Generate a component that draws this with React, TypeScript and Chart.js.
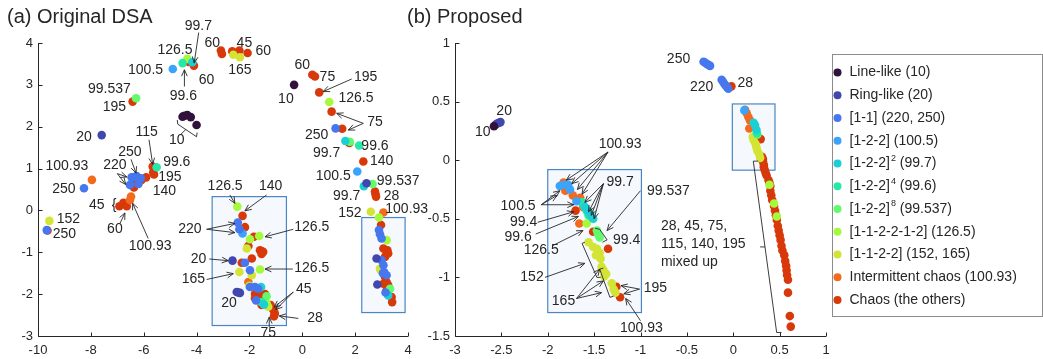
import React, { useEffect, useRef } from "react";
import { Chart, registerables } from "chart.js";

Chart.register(...registerables);

type P = [number, number];

// ---------- categories ----------
const categoryNames = [
  "Line-like (10)",
  "Ring-like (20)",
  "[1-1] (220, 250)",
  "[1-2-2] (100.5)",
  "[1-2-2]² (99.7)",
  "[1-2-2]⁴ (99.6)",
  "[1-2-2]⁸ (99.537)",
  "[1-1-2-2-1-2] (126.5)",
  "[1-1-2-2] (152, 165)",
  "Intermittent chaos (100.93)",
  "Chaos (the others)",
];
const categoryColors = [
  "#30123b", "#4047ae", "#4677ee", "#3aa3fc", "#1ccfd5", "#25eaa7",
  "#62fb6b", "#a6fa3c", "#d3e435", "#f46a1d", "#d8390a",
];

// ---------- (a) Original DSA ----------
const dsaLineLike: P[] = [[-4.53, 2.24], [-4.45, 2.26], [-4.35, 2.28], [-4.22, 2.23], [-4.0, 2.04], [-0.31, 3.0]];
const dsaRingLike: P[] = [[-7.59, 1.8], [2.43, 0.65], [-2.64, -1.2], [-2.48, -1.95], [-2.42, -1.96], [-2.36, -1.97], [2.81, -1.15], [2.84, -1.77]];
const dsaOneOne: P[] = [
  [1.26, 1.96], [-6.46, 0.79], [-6.35, 0.8], [-6.27, 0.82], [-6.11, 0.77], [-6.52, 0.61], [-6.2, 0.63],
  [-8.26, 0.53], [-9.67, -0.47], [-2.44, -0.29], [-2.38, -0.45], [-2.17, -1.25], [-1.98, -1.43],
  [-1.98, -1.83], [-1.79, -1.83], [-1.67, -1.87], [-1.75, -2.15], [2.9, -0.47], [2.94, -0.57],
  [3.0, -0.67], [3.0, -1.19], [3.07, -1.31], [3.1, -1.48], [3.05, -1.5], [3.19, -1.55], [3.15, -1.96],
];
const dsa1005: P[] = [[-4.9, 3.38], [2.08, 0.93], [-2.26, -0.55]];
const dsa997: P[] = [[-4.16, 3.54], [1.63, 1.66], [2.33, 0.58], [-1.56, -1.83], [-1.45, -2.25], [3.25, -2.03]];
const dsa996: P[] = [[-4.53, 3.52], [2.15, 1.55], [-5.51, 1.03], [-1.54, -2.19]];
const dsa99537: P[] = [[-6.29, 2.68], [1.8, 1.64], [2.66, 0.63], [-1.35, -2.05], [3.32, -1.87]];
const dsa1265: P[] = [[-4.35, 3.62], [1.02, 2.59], [-2.46, 0.09], [-1.63, -0.61], [-1.98, -0.69], [-1.6, -1.41], [2.9, -0.17], [3.19, -0.71], [-1.35, -2.22]];
const dsa152: P[] = [[-2.61, 3.72], [-2.36, 3.66], [-9.57, -0.25], [2.59, -0.03], [-2.1, -0.91], [-2.38, -1.47], [-1.91, -1.55], [-2.0, -1.8], [-1.29, -2.3], [2.94, -1.39], [2.96, -1.42]];
const dsaIntermittent: P[] = [[-7.96, 0.73], [3.07, -0.05], [-6.48, 0.33], [-6.52, 0.25], [-2.04, -1.71]];
const dsaChaos: P[] = [
  [-4.1, 3.46], [-4.3, 3.55], [-3.08, 3.82], [-3.04, 3.74], [-2.65, 3.8], [-2.38, 3.82], [-2.07, 3.76],
  [-6.42, 2.6], [0.38, 3.24], [0.48, 3.2], [0.64, 2.82], [1.11, 2.36], [1.51, 1.95], [1.78, 1.61], [2.31, 1.17],
  [2.75, 0.45], [2.77, 0.39], [2.79, 0.33], [-6.08, 0.73], [-6.37, 0.55], [-5.91, 0.79], [-5.66, 1.05],
  [-5.64, 0.91], [-5.61, 0.86], [-6.3, 0.68], [-6.92, 0.1], [-6.77, 0.18], [-6.64, 0.1], [-9.64, -0.48],
  [-2.26, -0.13], [-2.17, -0.4], [-1.83, -0.63], [-2.04, -0.85], [-1.6, -0.95], [-1.55, -0.97], [-1.48, -0.99],
  [-1.54, -1.04], [-1.91, -1.15], [-2.29, -1.25], [-1.79, -1.99], [-1.6, -2.03], [-1.41, -2.0], [-1.79, -2.1],
  [-1.48, -2.22], [-1.54, -2.26], [-1.2, -2.26], [-1.1, -2.37], [-1.04, -2.46], [-1.07, -2.53],
  [2.98, -0.35], [3.07, -0.91], [3.22, -0.95], [3.19, -0.99], [3.25, -1.03], [3.13, -1.11], [3.13, -1.59],
  [3.19, -1.71], [3.07, -1.75], [3.25, -1.79], [3.19, -1.91], [3.38, -2.07], [3.4, -2.19],
];

// ---------- (b) Proposed ----------
const propLineLike: P[] = [[-2.58, 0.29]];
const propRingLike: P[] = [[-2.56, 0.305], [-2.54, 0.315], [-2.525, 0.32], [-2.51, 0.325]];
const propOneOne: P[] = [
  [-0.32, 0.84], [-0.3, 0.83], [-0.28, 0.82], [-0.26, 0.81], [-0.25, 0.805],
  [-0.125, 0.686], [-0.11, 0.67], [-0.095, 0.65], [-0.08, 0.635], [-0.065, 0.62], [-0.053, 0.61],
];
const prop1005: P[] = [[-1.87, -0.22], [-1.83, -0.21], [-1.78, -0.21], [-1.76, -0.25], [-1.69, -0.35], [0.12, 0.425]];
const prop997: P[] = [[-1.6, -0.4], [-1.57, -0.43], [-1.55, -0.45], [-1.53, -0.48], [-1.51, -0.5], [0.22, 0.32], [0.235, 0.3], [0.25, 0.26]];
const prop996: P[] = [[-1.63, -0.36], [-1.61, -0.39], [-1.58, -0.43], [-1.56, -0.47], [0.255, 0.23]];
const prop99537: P[] = [[-1.47, -0.6], [-1.46, -0.63], [-1.44, -0.66], [0.26, 0.22]];
const prop1265: P[] = [[-1.58, -0.54], [0.39, -0.21], [0.44, -0.37], [0.47, -0.48]];
const prop152: P[] = [
  [-1.56, -0.7], [-1.51, -0.74], [-1.47, -0.755], [-1.48, -0.81], [-1.44, -0.79], [-1.43, -0.84],
  [-1.42, -0.91], [-1.4, -0.935], [-1.37, -0.97], [-1.39, -0.99], [-1.31, -1.05], [-1.29, -1.1], [-1.27, -1.13],
  [0.21, 0.2], [0.22, 0.17], [0.24, 0.14], [0.25, 0.11], [0.26, 0.08], [0.28, 0.05], [0.29, 0.02],
];
const propIntermittent: P[] = [
  [-1.83, -0.19], [-1.81, -0.26], [-1.8, -0.24], [-1.73, -0.3], [-1.65, -0.32], [-1.62, -0.4], [-1.66, -0.54],
  [0.127, 0.43], [0.145, 0.4], [0.162, 0.37], [0.18, 0.34], [0.173, 0.27],
];
const propChaos: P[] = [
  [-1.7, -0.43], [-1.51, -0.61], [-1.35, -0.755], [-1.26, -1.08], [-1.22, -1.17], [-0.02, 0.63], [0.296, 0.18],
  [0.31, 0.03], [0.32, 0.01], [0.32, -0.01], [0.33, -0.04], [0.33, -0.06], [0.34, -0.085], [0.35, -0.11],
  [0.36, -0.13], [0.38, -0.17], [0.39, -0.19], [0.4, -0.22], [0.4, -0.26], [0.41, -0.3], [0.42, -0.34],
  [0.44, -0.39], [0.45, -0.43], [0.46, -0.47], [0.47, -0.51], [0.48, -0.56], [0.49, -0.6], [0.5, -0.64],
  [0.51, -0.68], [0.52, -0.73], [0.53, -0.77], [0.55, -0.81], [0.56, -0.86], [0.57, -0.9], [0.575, -0.94],
  [0.58, -0.98], [0.59, -1.02], [0.59, -1.13], [0.61, -1.33], [0.62, -1.42],
];

const dsaSeries = [dsaLineLike, dsaRingLike, dsaOneOne, dsa1005, dsa997, dsa996, dsa99537, dsa1265, dsa152, dsaIntermittent, dsaChaos];
const propSeries = [propLineLike, propRingLike, propOneOne, prop1005, prop997, prop996, prop99537, prop1265, prop152, propIntermittent, propChaos];

// ---------- axes ----------
const dsaXRange = [-10, 4, 2];
const dsaYRange = [-3, 4, 1];
const propXRange = [-3, 1, 0.5];
const propYRange = [-1.5, 1, 0.5];

// ---------- annotations (data units) ----------
type Lbl = [string, number, number];
const dsaLabels: Lbl[] = [
  ["99.7", -3.93, 4.4], ["126.5", -4.82, 3.82], ["60", -3.41, 4.0], ["45", -2.19, 4.0], ["60", -1.48, 3.8],
  ["100.5", -5.93, 3.34], ["60", -3.62, 3.12], ["165", -2.36, 3.34], ["99.6", -4.5, 2.72], ["99.537", -7.3, 2.9],
  ["195", -7.11, 2.47], ["20", -8.26, 1.76], ["10", -4.75, 1.68], ["60", 0.0, 3.46], ["75", 0.95, 3.19],
  ["195", 2.4, 3.19], ["10", -0.62, 2.66], ["126.5", 2.03, 2.68], ["75", 2.75, 2.12], ["250", 0.54, 1.8],
  ["99.7", 0.92, 1.38], ["99.6", 2.75, 1.54], ["140", 3.0, 1.18], ["100.5", 1.17, 0.81], ["99.537", 3.63, 0.69],
  ["115", -5.89, 1.87], ["99.6", -4.75, 1.15], ["250", -6.52, 1.4], ["100.93", -8.91, 1.07], ["220", -7.09, 1.09],
  ["195", -5.01, 0.79], ["140", -5.22, 0.47], ["250", -9.02, 0.51], ["45", -7.78, 0.13], ["{", -7.12, 0.13],
  ["60", -7.09, -0.45], ["100.93", -5.76, -0.85], ["152", -8.85, -0.21], ["250", -9.0, -0.57],
  ["126.5", -2.92, 0.57], ["140", -1.2, 0.57], ["220", -4.25, -0.45], ["126.5", 0.36, -0.39], ["20", -3.93, -1.16],
  ["126.5", 0.36, -1.39], ["165", -4.12, -1.65], ["20", -2.77, -2.22], ["45", 0.06, -1.89], ["28", 0.48, -2.58],
  ["75", -1.29, -2.94], ["99.7", 1.68, 0.34], ["28", 3.38, 0.33], ["152", 1.8, -0.06], ["100.93", 3.95, 0.03],
];
const dsaArrows: number[][] = [
  [-3.92, 4.25, -4.09, 3.52], [-4.46, 2.96, -4.46, 3.36], [1.87, 3.14, 0.79, 2.84], [2.31, 2.08, 1.3, 2.32],
  [2.31, 2.08, 1.74, 1.92], [-5.8, 1.69, -5.66, 1.1], [-6.48, 1.22, -6.29, 0.89], [-7.0, 0.88, -6.64, 0.8],
  [-7.0, 0.88, -6.68, 0.62], [-6.9, -0.31, -6.71, -0.06], [-5.83, -0.67, -6.42, 0.17], [-2.74, 0.37, -2.55, 0.17],
  [-1.35, 0.37, -2.17, -0.01], [-3.62, -0.45, -2.55, -0.31], [-3.62, -0.45, -2.55, -0.53], [-0.34, -0.45, -1.41, -0.63],
  [-3.52, -1.16, -2.8, -1.2], [-0.36, -1.4, -1.41, -1.4], [-3.62, -1.65, -2.61, -1.51], [-0.34, -1.95, -1.07, -2.31],
  [-0.34, -1.95, -1.0, -2.37], [-0.15, -2.58, -0.87, -2.52], [-1.25, -2.78, -1.25, -2.55],
];
const dsaPolylines: number[][] = [
  [-4.73, 2.16, -4.71, 2.06, -4.0, 1.76, -3.98, 1.86],
  [-4.62, 1.8, -4.4, 1.94],
];
const dsaBoxes: number[][] = [[-3.41, 0.33, -0.6, -2.75], [2.25, -0.17, 3.89, -2.44]];

const propLabels: Lbl[] = [
  ["20", -2.47, 0.42], ["10", -2.7, 0.24], ["250", -0.59, 0.86], ["220", -0.34, 0.62], ["28", 0.13, 0.66],
  ["100.93", -1.22, 0.14], ["99.7", -1.22, -0.19], ["99.537", -0.7, -0.26], ["100.5", -2.32, -0.39],
  ["99.4", -2.26, -0.53], ["99.6", -2.32, -0.66], ["126.5", -2.07, -0.77], ["99.4", -1.15, -0.68],
  ["152", -2.17, -1.0], ["165", -1.83, -1.2], ["195", -0.84, -1.09], ["100.93", -0.99, -1.43],
];
const propNote: Lbl[] = [["28, 45, 75,", -0.78, -0.56], ["115, 140, 195", -0.78, -0.72], ["mixed up", -0.78, -0.87]];
const propArrows: number[][] = [
  [-1.35, 0.07, -1.8, -0.17], [-1.35, 0.07, -1.74, -0.2], [-1.35, 0.07, -1.68, -0.25], [-1.35, 0.07, -1.63, -0.29],
  [-1.4, -0.2, -1.6, -0.36], [-1.4, -0.2, -1.56, -0.44], [-1.4, -0.2, -1.53, -0.47], [-1.4, -0.2, -1.5, -0.5],
  [-1.0, -0.26, -1.36, -0.6], [-2.07, -0.38, -1.87, -0.26], [-2.07, -0.38, -1.9, -0.3], [-2.07, -0.38, -1.72, -0.38],
  [-2.11, -0.53, -1.72, -0.44], [-2.13, -0.63, -1.67, -0.48], [-1.95, -0.73, -1.62, -0.6], [-2.03, -1.0, -1.6, -0.88],
  [-1.69, -1.18, -1.44, -0.93], [-1.69, -1.18, -1.4, -1.03], [-1.69, -1.18, -1.42, -1.13],
  [-1.01, -1.1, -1.21, -1.07], [-1.01, -1.1, -1.18, -1.14], [-1.0, -1.37, -1.16, -1.18],
];
const propPolylines: number[][] = [
  [-1.49, -0.58, -1.44, -0.59, -1.36, -0.68, -1.41, -0.7],
  [-1.6, -0.7, -1.63, -0.71, -1.47, -1.0, -1.43, -1.0],
  [-1.4, -0.92, -1.44, -0.93, -1.33, -1.17, -1.29, -1.16],
  [0.27, -0.008, 0.216, -0.008, 0.468, -1.47, 0.52, -1.47],
  [0.342, -0.74, 0.29, -0.74],
];
const propBoxes: number[][] = [[-2.0, -0.08, -0.99, -1.3], [-0.01, 0.48, 0.45, -0.085]];

// ---------- styling ----------
const FONT = '"Liberation Sans", Arial, Helvetica, sans-serif';
const INK = "#262626";
const BOX_EDGE = "#4a86c6";
const BOX_FILL = "rgba(232,240,250,0.45)";

function drawArrow(ctx: CanvasRenderingContext2D, x1: number, y1: number, x2: number, y2: number) {
  ctx.beginPath();
  ctx.moveTo(x1, y1);
  ctx.lineTo(x2, y2);
  ctx.stroke();
  const a = Math.atan2(y2 - y1, x2 - x1);
  const h = 7, w = 0.42;
  ctx.beginPath();
  ctx.moveTo(x2 - h * Math.cos(a - w), y2 - h * Math.sin(a - w));
  ctx.lineTo(x2, y2);
  ctx.lineTo(x2 - h * Math.cos(a + w), y2 - h * Math.sin(a + w));
  ctx.stroke();
}

function drawLegendText(ctx: CanvasRenderingContext2D, text: string, x: number, y: number) {
  const sup: Record<string, string> = { "²": "2", "⁴": "4", "⁸": "8" };
  let cx = x;
  let buf = "";
  const flush = () => {
    if (!buf) return;
    ctx.font = `14px ${FONT}`;
    ctx.fillText(buf, cx, y);
    cx += ctx.measureText(buf).width;
    buf = "";
  };
  for (const ch of text) {
    if (sup[ch]) {
      flush();
      ctx.font = `9px ${FONT}`;
      ctx.fillText(sup[ch], cx + 1, y - 5);
      cx += ctx.measureText(sup[ch]).width + 1;
    } else buf += ch;
  }
  flush();
}

function decor(spec: any) {
  return {
    id: "decor",
    beforeDatasetsDraw(chart: any) {
      const { ctx, scales } = chart;
      const X = scales.x, Y = scales.y;
      ctx.save();
      for (const [x1, y1, x2, y2] of spec.boxes) {
        const l = X.getPixelForValue(x1), t = Y.getPixelForValue(y1);
        const r = X.getPixelForValue(x2), b = Y.getPixelForValue(y2);
        ctx.fillStyle = BOX_FILL;
        ctx.fillRect(l, t, r - l, b - t);
        ctx.strokeStyle = BOX_EDGE;
        ctx.lineWidth = 1.2;
        ctx.strokeRect(l, t, r - l, b - t);
      }
      ctx.restore();
    },
    afterDatasetsDraw(chart: any) {
      const { ctx, scales, chartArea: a } = chart;
      const X = scales.x, Y = scales.y;
      ctx.save();
      // axes (MATLAB style, inward ticks)
      ctx.strokeStyle = INK;
      ctx.lineWidth = 1;
      ctx.beginPath();
      const L = Math.round(a.left) + 0.5, B = Math.round(a.bottom) + 0.5;
      ctx.moveTo(L, a.top);
      ctx.lineTo(L, B);
      ctx.lineTo(a.right, B);
      for (const t of X.ticks) {
        const px = Math.round(X.getPixelForValue(t.value)) + 0.5;
        ctx.moveTo(px, B);
        ctx.lineTo(px, B - 4);
      }
      for (const t of Y.ticks) {
        const py = Math.round(Y.getPixelForValue(t.value)) + 0.5;
        ctx.moveTo(L, py);
        ctx.lineTo(L + 4, py);
      }
      ctx.stroke();

      // arrows and brackets
      ctx.lineWidth = 0.9;
      for (const [x1, y1, x2, y2] of spec.arrows) {
        drawArrow(ctx, X.getPixelForValue(x1), Y.getPixelForValue(y1), X.getPixelForValue(x2), Y.getPixelForValue(y2));
      }
      for (const pl of spec.polylines) {
        ctx.beginPath();
        for (let i = 0; i < pl.length; i += 2) {
          const px = X.getPixelForValue(pl[i]), py = Y.getPixelForValue(pl[i + 1]);
          if (i === 0) ctx.moveTo(px, py);
          else ctx.lineTo(px, py);
        }
        ctx.stroke();
      }

      // labels
      ctx.fillStyle = INK;
      ctx.font = `14px ${FONT}`;
      ctx.textAlign = "center";
      ctx.textBaseline = "middle";
      for (const [t, x, y] of spec.labels) {
        ctx.fillText(t, X.getPixelForValue(x), Y.getPixelForValue(y));
      }
      ctx.textAlign = "left";
      for (const [t, x, y] of spec.notes) {
        ctx.fillText(t, X.getPixelForValue(x), Y.getPixelForValue(y));
      }

      // title
      ctx.font = `20px ${FONT}`;
      ctx.textBaseline = "alphabetic";
      ctx.fillText(spec.title, 7, 23);

      // legend
      if (spec.legend) {
        const lx = a.right + 6.5, ly = 54.5, lw = 210, lh = 262;
        ctx.fillStyle = "#ffffff";
        ctx.fillRect(lx, ly, lw, lh);
        ctx.strokeStyle = "#8c8c8c";
        ctx.lineWidth = 1;
        ctx.strokeRect(lx, ly, lw, lh);
        categoryNames.forEach((name, i) => {
          const yy = 72.5 + i * 22.75;
          ctx.fillStyle = categoryColors[i];
          ctx.beginPath();
          ctx.arc(lx + 5, yy, 4, 0, Math.PI * 2);
          ctx.fill();
          ctx.fillStyle = INK;
          ctx.textBaseline = "middle";
          drawLegendText(ctx, name, lx + 17, yy);
        });
      }
      ctx.restore();
    },
  };
}

function makeConfig(series: P[][], xr: number[], yr: number[], yWidth: number, padRight: number, spec: any): any {
  const tickFmt = (v: any) => String(Math.round(Number(v) * 100) / 100);
  return {
    type: "scatter",
    data: {
      datasets: series.map((pts, i) => ({
        label: categoryNames[i],
        data: pts.map(([x, y]) => ({ x, y })),
        backgroundColor: categoryColors[i],
        borderWidth: 0,
        pointRadius: 4.3,
        pointHoverRadius: 4.3,
      })),
    },
    options: {
      responsive: false,
      animation: false,
      events: [],
      layout: { padding: { top: 43, right: padRight, left: 0, bottom: 0 } },
      plugins: { legend: { display: false }, tooltip: { enabled: false }, title: { display: false } },
      scales: {
        x: {
          type: "linear",
          min: xr[0],
          max: xr[1],
          ticks: { stepSize: xr[2], color: INK, font: { family: FONT, size: 13 }, padding: 7, maxRotation: 0, autoSkip: false, callback: tickFmt },
          grid: { display: false, drawTicks: false },
          border: { display: false },
          afterFit: (s: any) => { s.height = 23; },
        },
        y: {
          type: "linear",
          min: yr[0],
          max: yr[1],
          ticks: { stepSize: yr[2], color: INK, font: { family: FONT, size: 13 }, padding: 5, autoSkip: false, callback: tickFmt },
          grid: { display: false, drawTicks: false },
          border: { display: false },
          afterFit: (s: any) => { s.width = yWidth; },
        },
      },
    },
    plugins: [decor(spec)],
  };
}

export default function App() {
  const refA = useRef<HTMLCanvasElement>(null);
  const refB = useRef<HTMLCanvasElement>(null);

  useEffect(() => {
    const a = new Chart(
      refA.current!,
      makeConfig(dsaSeries, dsaXRange, dsaYRange, 38, 37, {
        title: "(a) Original DSA",
        labels: dsaLabels,
        notes: [],
        arrows: dsaArrows,
        polylines: dsaPolylines,
        boxes: dsaBoxes,
        legend: false,
      })
    );
    const b = new Chart(
      refB.current!,
      makeConfig(propSeries, propXRange, propYRange, 55, 217, {
        title: "(b) Proposed",
        labels: propLabels,
        notes: propNote,
        arrows: propArrows,
        polylines: propPolylines,
        boxes: propBoxes,
        legend: true,
      })
    );
    return () => {
      a.destroy();
      b.destroy();
    };
  }, []);

  return (
    <div style={{ position: "absolute", left: 0, top: 0, width: 1043, height: 359, background: "#fff", overflow: "hidden" }}>
      <canvas ref={refA} width={445} height={359} style={{ position: "absolute", left: 0, top: 0 }} />
      <canvas ref={refB} width={643} height={359} style={{ position: "absolute", left: 400, top: 0 }} />
    </div>
  );
}
